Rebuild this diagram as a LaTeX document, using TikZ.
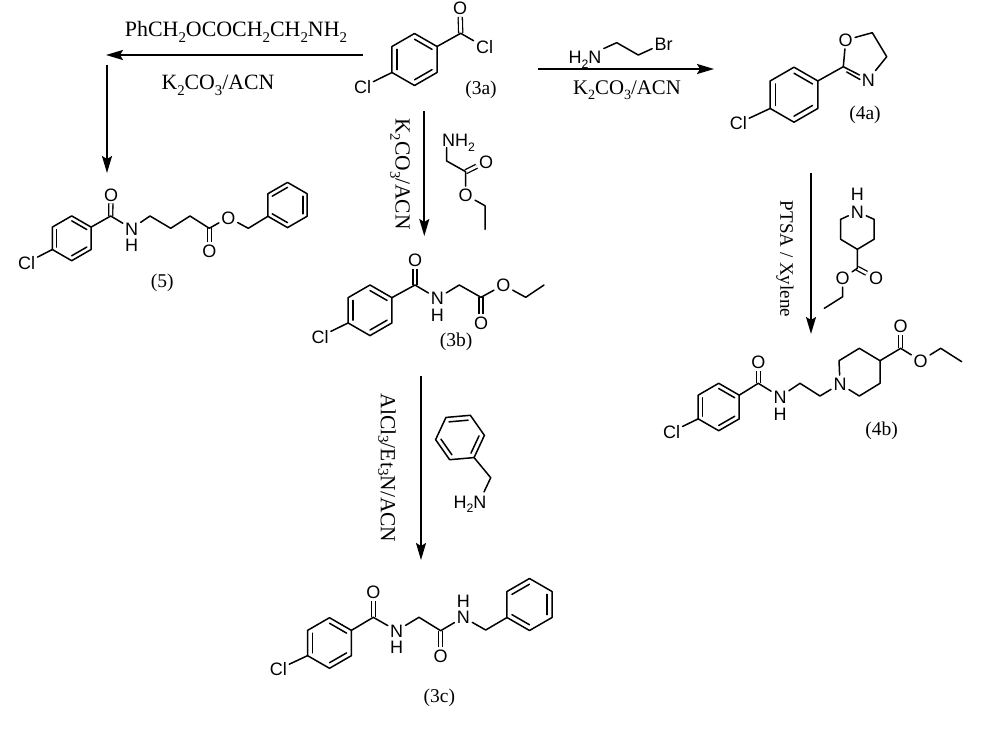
\documentclass[tikz,border=0pt]{standalone}
\usepackage{fontspec}
\setmainfont{Liberation Serif}
\newfontfamily\atomfont{Liberation Sans}
\usetikzlibrary{arrows.meta,calc}
\newcommand\sbs[1]{\raisebox{-0.25em}{\scalebox{0.68}{#1}}}
\newcommand\sbt[1]{\raisebox{-0.12em}{\scalebox{0.7}{#1}}}
\newcommand\ringmol[5]{%
  \foreach \k in {1,...,6}{\coordinate (#1\k) at ({#2+#4*cos(#5-60*(\k-1))},{#3-#4*sin(#5-60*(\k-1))});}
  \coordinate (#1c) at (#2,#3);
  \draw[bond] (#11)--(#12)--(#13)--(#14)--(#15)--(#16)--cycle;
  \draw[bond] ($(#1c)!0.78!(#11)$)--($(#1c)!0.78!(#12)$);
  \draw[bond] ($(#1c)!0.78!(#13)$)--($(#1c)!0.78!(#14)$);
  \draw[bond] ($(#1c)!0.78!(#15)$)--($(#1c)!0.78!(#16)$);
}
\tikzset{
  bond/.style={line width=1.5pt,line join=round,line cap=round},
  dbl/.style={line width=1.3pt,double,double distance=2.8pt},
  atom/.style={font=\atomfont\fontsize{18}{18}\selectfont,inner sep=2.2pt,text height=13pt,text depth=0pt},
  hatom/.style={atom,inner sep=0pt},
  lbl/.style={font=\fontsize{#1}{24}\selectfont,inner sep=0pt},
  lbl/.default=19.5,
  rx/.style={line width=1.8pt,-{Stealth[length=17pt,width=10pt,inset=3pt]}},
}
\begin{document}
\begin{tikzpicture}[x=1pt,y=-1pt]
\useasboundingbox (0,0) rectangle (1000,728);
\fill[white] (0,0) rectangle (1000,728);

% ---------- arrows
\coordinate (a1s) at (363,55); \coordinate (a1e) at (106,55);
\coordinate (a2s) at (107,65); \coordinate (a2e) at (107,173);
\coordinate (a3s) at (538,69); \coordinate (a3e) at (714,69);
\coordinate (a4s) at (424.3,111); \coordinate (a4e) at (424.3,236);
\coordinate (a5s) at (811,173); \coordinate (a5e) at (811,334);
\coordinate (a6s) at (421,376); \coordinate (a6e) at (421,560);
\draw[rx] (a1s)--(a1e);
\draw[rx] (a2s)--(a2e);
\draw[rx] (a3s)--(a3e);
\draw[rx] (a4s)--(a4e);
\draw[rx] (a5s)--(a5e);
\draw[rx] (a6s)--(a6e);

% ---------- arrow labels
\node[lbl=21.9] (t1) at (236,32) {PhCH\sbs{2}OCOCH\sbs{2}CH\sbs{2}NH\sbs{2}};
\node[lbl=21.8] (t2) at (218,85.5) {K\sbs{2}CO\sbs{3}/ACN};
\node[lbl=20.8] (t3) at (627,90) {K\sbs{2}CO\sbs{3}/ACN};
\node[lbl=21.5,rotate=-90] (t4) at (400,174) {K\sbs{2}CO\sbs{3}/ACN};
\node[lbl=19,rotate=-90] (t5) at (785,259) {PTSA / Xylene};
\node[lbl=21.5,rotate=-90] (t6) at (387,468) {AlCl\sbt{3}/Et\sbt{3}N/ACN};

% ---------- 3a
\node[atom] (aO) at (460,8) {O};
\node[atom] (aCl) at (484.5,47) {Cl};
\node[atom] (aCl2) at (362.5,87) {Cl};
\coordinate (aC) at (460.7,33.3);
\draw[dbl] (aC)--(aO);
\ringmol{ar}{414.5}{59.5}{26}{90}
\draw[bond] (ar2)--(aC)--(aCl);
\draw[bond] (ar5)--(aCl2);
\node[lbl] (l3a) at (481,89.5) {(3a)};

% ---------- 5
\node[atom] (fO) at (111,194.5) {O};
\node[atom] (fN) at (131.7,228.5) {N};
\node[hatom] (fH) at (131.7,244.5) {H};
\node[atom] (fO2) at (209.3,251) {O};
\node[atom] (fO3) at (228.3,217.5) {O};
\node[atom] (fCl) at (26.7,262.7) {Cl};
\coordinate (fC) at (110.7,216);
\coordinate (fa) at (150,216);
\coordinate (fb) at (170.7,228.3);
\coordinate (fd) at (190,216);
\coordinate (fe) at (209.3,228.3);
\coordinate (ff) at (248.3,228.3);
\draw[dbl] (fC)--(fO);
\draw[dbl] (fe)--(fO2);
\ringmol{fr}{71.7}{238.3}{22.4}{90}
\ringmol{fs}{287.5}{205}{22.6}{150}
\draw[bond] (fr2)--(fC)--(fN)--(fa)--(fb)--(fd)--(fe)--(fO3)--(ff)--(fs6);
\draw[bond] (fr5)--(fCl);
\node[lbl] (l5) at (162.3,282.5) {(5)};

% ---------- glycine ester reagent
\node[atom] (gN) at (458.5,140) {NH\sbs{2}};
\node[atom] (gO) at (486,161.7) {O};
\node[atom] (gO2) at (465.7,195) {O};
\coordinate (gNb) at (446.7,147.5);
\coordinate (ga) at (446.7,161);
\coordinate (gb) at (465.7,171.7);
\coordinate (gc) at (485,205.7);
\coordinate (gd) at (485,229.3);
\draw[dbl] (gb)--(gO);
\draw[bond] (gNb)--(ga)--(gb)--(gO2)--(gc)--(gd);

% ---------- 3b
\node[atom] (bO) at (415,260) {O};
\node[atom] (bN) at (437.3,298.3) {N};
\node[hatom] (bH) at (437.3,314.5) {H};
\node[atom] (bO2) at (481,323.3) {O};
\node[atom] (bO3) at (503.3,285) {O};
\node[atom] (bCl) at (320,336.7) {Cl};
\coordinate (bC) at (415,285);
\coordinate (ba) at (459.3,285);
\coordinate (bd) at (481,297.3);
\coordinate (be) at (525.7,297.3);
\coordinate (bf) at (544,285);
\ringmol{br}{370}{310.3}{25.3}{90}
\draw[dbl] (bC)--(bO);
\draw[dbl] (bd)--(bO2);
\draw[bond] (br2)--(bC)--(bN)--(ba)--(bd)--(bO3)--(be)--(bf);
\draw[bond] (br5)--(bCl);
\node[lbl] (l3b) at (456,341.5) {(3b)};

% ---------- bromoethylamine reagent
\node[atom] (hN) at (585,57) {H\sbs{2}N};
\node[atom] (hBr) at (663.5,43.5) {Br};
\coordinate (ha) at (616.7,42.7);
\coordinate (hb) at (638.3,55);
\draw[bond] (hN)--(ha)--(hb)--(hBr);

% ---------- 4a
\node[atom] (oO) at (845.7,40) {O};
\node[atom] (oN) at (868.3,79.5) {N};
\node[atom] (oCl) at (738.3,123.3) {Cl};
\coordinate (oC) at (843.3,66.7);
\coordinate (oa) at (872.3,32.7);
\coordinate (ob) at (886.7,56.7);
\coordinate (oi) at (846.7,72);
\coordinate (oj) at (860,79.5);
\ringmol{or}{794}{94.7}{27.5}{90}
\draw[bond] (or2)--(oC)--(oO)--(oa)--(ob)--(oN)--(oC);
\draw[bond] (oi)--(oj);
\draw[bond] (or5)--(oCl);
\node[lbl] (l4a) at (865,114.5) {(4a)};

% ---------- piperidine reagent
\node[hatom] (pH) at (857.3,194) {H};
\node[atom] (pN) at (857.3,211.7) {N};
\node[atom] (pO) at (876,278.3) {O};
\node[atom] (pO2) at (842.7,278.3) {O};
\coordinate (pa) at (874,219.3);
\coordinate (pb) at (874,239.3);
\coordinate (pc) at (857.3,249.3);
\coordinate (pd) at (840.7,239.3);
\coordinate (pe) at (840.7,219.3);
\coordinate (pf) at (857.3,268.3);
\coordinate (pg) at (842.7,296.7);
\coordinate (ph) at (824.3,308.3);
\draw[dbl] (pf)--(pO);
\draw[bond] (pN)--(pa)--(pb)--(pc)--(pd)--(pe)--(pN);
\draw[bond] (pc)--(pf)--(pO2)--(pg)--(ph);

% ---------- 4b
\node[atom] (qO) at (758.3,361.7) {O};
\node[atom] (qN) at (780,396.7) {N};
\node[hatom] (qH) at (780,413.5) {H};
\node[atom] (qN2) at (840,384) {N};
\node[atom] (qO2) at (900.7,326) {O};
\node[atom] (qO3) at (920.7,360.7) {O};
\node[atom] (qCl) at (671.7,431.7) {Cl};
\coordinate (qC) at (758.3,383.3);
\coordinate (qa) at (800,383.3);
\coordinate (qb) at (820,396);
\coordinate (qc) at (839,360.7);
\coordinate (qd) at (859.3,348.3);
\coordinate (qe) at (880,360.7);
\coordinate (qf) at (880,383.3);
\coordinate (qg) at (859.3,396);
\coordinate (qk) at (900.7,348.3);
\coordinate (qm) at (940.7,348.3);
\coordinate (qn) at (961.7,361.7);
\ringmol{qr}{718.7}{407}{23.7}{90}
\draw[dbl] (qC)--(qO);
\draw[dbl] (qk)--(qO2);
\draw[bond] (qr2)--(qC)--(qN)--(qa)--(qb)--(qN2)--(qc)--(qd)--(qe)--(qf)--(qg)--(qN2);
\draw[bond] (qe)--(qk)--(qO3)--(qm)--(qn);
\draw[bond] (qr5)--(qCl);
\node[lbl] (l4b) at (881.7,430.5) {(4b)};

% ---------- benzylamine reagent
\node[atom] (yN) at (470,501.7) {H\sbs{2}N};
\coordinate (ya) at (490.7,477.7);
\coordinate (yb) at (484,492);
\ringmol{yr}{460}{437.5}{24.5}{125}
\draw[bond] (yr4)--(ya)--(yb);

% ---------- 3c
\node[atom] (cO) at (373.3,591.7) {O};
\node[atom] (cN) at (396.7,630.7) {N};
\node[hatom] (cH) at (396.7,647) {H};
\node[atom] (cO2) at (440.7,656) {O};
\node[atom] (cN2) at (463.3,617.3) {N};
\node[hatom] (cH2) at (463.3,601.3) {H};
\node[atom] (cCl) at (278.3,669.3) {Cl};
\coordinate (cC) at (373.3,617.3);
\coordinate (ca) at (419,617.3);
\coordinate (cd) at (440.7,630.7);
\coordinate (ce) at (485.7,630);
\ringmol{cr}{329.5}{643}{25.3}{90}
\ringmol{cs}{529.5}{604.5}{26}{150}
\draw[dbl] (cC)--(cO);
\draw[dbl] (cd)--(cO2);
\draw[bond] (cr2)--(cC)--(cN)--(ca)--(cd)--(cN2)--(ce)--(cs6);
\draw[bond] (cr5)--(cCl);
\node[lbl] (l3c) at (439.3,698) {(3c)};
\end{tikzpicture}
\end{document}
